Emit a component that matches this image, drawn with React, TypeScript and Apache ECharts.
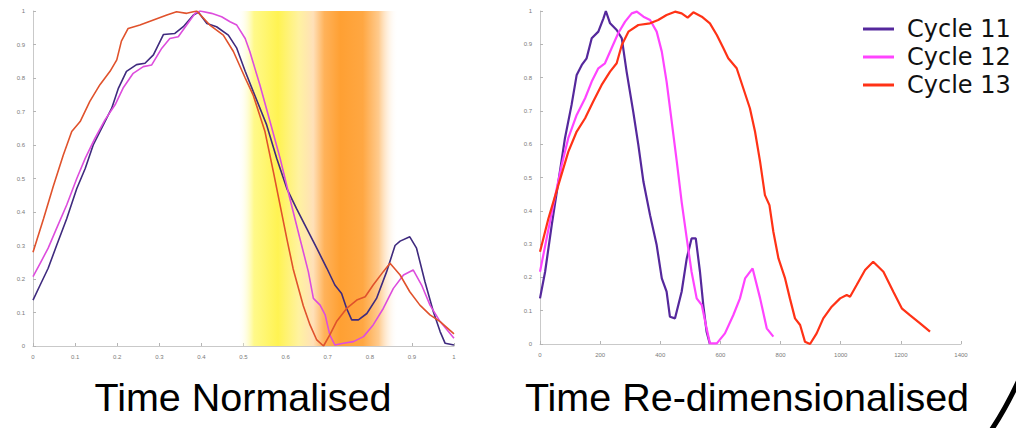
import React, { useEffect, useRef } from "react";
import * as echarts from "echarts";

const seriesNames = ["Cycle 11", "Cycle 12", "Cycle 13"];
const legendColors = ["#55289c", "#ff44ff", "#ff3216"];
const normColors = ["#3f2a7e", "#dd4ddd", "#e0522c"];
const realColors = ["#55289c", "#ff44ff", "#ff3216"];
const titles = ["Time Normalised", "Time Re-dimensionalised"];

// Left chart: time normalised (x 0..1)
const norm11 = [
  [0, 0.137], [0.017, 0.182], [0.036, 0.232], [0.056, 0.3], [0.08, 0.38], [0.104, 0.47], [0.124, 0.53],
  [0.143, 0.6], [0.167, 0.66], [0.187, 0.71], [0.203, 0.77], [0.222, 0.82], [0.246, 0.84], [0.266, 0.844],
  [0.286, 0.869], [0.31, 0.93], [0.337, 0.933], [0.357, 0.953], [0.381, 0.988], [0.393, 0.996], [0.413, 0.963],
  [0.436, 0.953], [0.464, 0.928], [0.484, 0.889], [0.504, 0.82], [0.523, 0.76], [0.555, 0.66], [0.579, 0.56],
  [0.603, 0.47], [0.626, 0.41], [0.65, 0.351], [0.674, 0.292], [0.698, 0.232], [0.717, 0.182], [0.733, 0.157],
  [0.745, 0.112], [0.757, 0.078], [0.773, 0.078], [0.793, 0.097], [0.816, 0.142], [0.84, 0.222], [0.86, 0.3],
  [0.872, 0.313], [0.895, 0.326], [0.911, 0.292], [0.931, 0.192], [0.951, 0.102], [0.967, 0.043], [0.979, 0.008],
  [1, 0.003],
];
const norm12 = [
  [0, 0.207], [0.017, 0.247], [0.036, 0.292], [0.056, 0.351], [0.08, 0.421], [0.104, 0.5], [0.124, 0.56],
  [0.147, 0.62], [0.171, 0.675], [0.195, 0.72], [0.214, 0.77], [0.238, 0.814], [0.262, 0.834], [0.282, 0.839],
  [0.306, 0.889], [0.325, 0.918], [0.345, 0.923], [0.365, 0.958], [0.385, 0.993], [0.397, 1.0], [0.424, 0.993],
  [0.448, 0.983], [0.468, 0.968], [0.484, 0.958], [0.504, 0.918], [0.515, 0.879], [0.539, 0.779], [0.563, 0.67],
  [0.587, 0.56], [0.61, 0.441], [0.634, 0.321], [0.654, 0.222], [0.666, 0.142], [0.682, 0.122], [0.694, 0.093],
  [0.705, 0.033], [0.717, 0.003], [0.737, 0.008], [0.761, 0.013], [0.785, 0.028], [0.808, 0.063], [0.832, 0.112],
  [0.856, 0.172], [0.88, 0.212], [0.903, 0.227], [0.923, 0.182], [0.943, 0.122], [0.967, 0.073], [1, 0.023],
];
const norm13 = [
  [0, 0.28], [0.025, 0.38], [0.048, 0.476], [0.072, 0.57], [0.092, 0.64], [0.112, 0.67], [0.135, 0.73],
  [0.159, 0.78], [0.183, 0.82], [0.199, 0.854], [0.21, 0.91], [0.226, 0.948], [0.254, 0.958], [0.286, 0.973],
  [0.318, 0.988], [0.341, 0.998], [0.365, 0.993], [0.389, 1.0], [0.42, 0.958], [0.452, 0.928], [0.476, 0.879],
  [0.504, 0.8], [0.523, 0.749], [0.551, 0.64], [0.571, 0.52], [0.587, 0.42], [0.603, 0.32], [0.618, 0.23],
  [0.642, 0.12], [0.658, 0.063], [0.674, 0.018], [0.69, 0.0], [0.705, 0.033], [0.721, 0.073], [0.745, 0.112],
  [0.769, 0.137], [0.789, 0.147], [0.808, 0.182], [0.832, 0.222], [0.848, 0.247], [0.872, 0.212], [0.895, 0.162],
  [0.919, 0.122], [0.943, 0.093], [0.967, 0.073], [1, 0.036],
];

// Right chart: time re-dimensionalised (x 0..1400)
const real11 = [
  [0, 0.137], [17, 0.217], [39, 0.357], [61, 0.487], [83, 0.618], [105, 0.718], [122, 0.808], [139, 0.838],
  [155, 0.858], [172, 0.918], [194, 0.938], [211, 0.978], [219, 1.0], [233, 0.963], [255, 0.943], [272, 0.918],
  [288, 0.818], [310, 0.698], [327, 0.598], [344, 0.487], [366, 0.387], [388, 0.297], [405, 0.197], [421, 0.157],
  [432, 0.082], [449, 0.077], [471, 0.157], [488, 0.257], [504, 0.317], [518, 0.317], [532, 0.217], [543, 0.117],
  [554, 0.037], [565, 0],
];
const real12 = [
  [0, 0.217], [22, 0.317], [44, 0.417], [72, 0.537], [94, 0.618], [122, 0.688], [150, 0.738], [172, 0.788],
  [194, 0.828], [216, 0.843], [238, 0.888], [260, 0.933], [283, 0.968], [305, 0.993], [322, 0.998], [344, 0.983],
  [366, 0.973], [388, 0.938], [405, 0.878], [421, 0.788], [438, 0.668], [455, 0.547], [471, 0.427], [488, 0.317],
  [504, 0.217], [521, 0.137], [538, 0.117], [554, 0.047], [565, 0.002], [588, 0.002], [615, 0.032], [643, 0.087],
  [665, 0.137], [682, 0.197], [707, 0.227], [732, 0.137], [754, 0.047], [776, 0.022],
];
const real13 = [
  [0, 0.277], [28, 0.377], [61, 0.477], [94, 0.577], [122, 0.638], [150, 0.678], [177, 0.728], [205, 0.778],
  [233, 0.818], [255, 0.843], [272, 0.898], [294, 0.938], [327, 0.958], [366, 0.963], [393, 0.973], [421, 0.988],
  [449, 0.998], [471, 0.993], [491, 0.98], [510, 0.996], [538, 0.983], [565, 0.963], [588, 0.928], [610, 0.888],
  [626, 0.858], [654, 0.828], [676, 0.768], [698, 0.708], [715, 0.638], [732, 0.547], [748, 0.447], [763, 0.417],
  [776, 0.337], [793, 0.257], [815, 0.197], [831, 0.137], [848, 0.077], [865, 0.057], [881, 0.007], [898, 0],
  [920, 0.032], [942, 0.077], [970, 0.112], [998, 0.137], [1020, 0.147], [1031, 0.142], [1053, 0.177],
  [1081, 0.222], [1108, 0.247], [1142, 0.217], [1175, 0.157], [1203, 0.107], [1230, 0.087], [1264, 0.062],
  [1297, 0.037],
];

// Highlighted band on the normalised chart (x range)
const bandRange = [0.487, 0.867];

const normSeries = [norm11, norm12, norm13];
const realSeries = [real11, real12, real13];

function axisCommon(extra: any) {
  return {
    type: "value",
    axisLine: { show: true, lineStyle: { color: "#c9c9c9", width: 1 } },
    axisTick: { show: true, inside: true, length: 3, lineStyle: { color: "#b5b5b5" } },
    axisLabel: {
      fontSize: 6,
      color: "#7a7a7a",
      margin: 8,
      fontFamily: "Liberation Sans",
      formatter: (v: number) => String(Math.round(v * 1000) / 1000),
    },
    splitLine: { show: false },
    ...extra,
  };
}

export default function App() {
  const ref = useRef<HTMLDivElement>(null);
  useEffect(() => {
    if (!ref.current) return;
    const chart = echarts.init(ref.current, null, { renderer: "svg" });
    const series: any[] = [];
    series.push({
      type: "line",
      name: "band",
      xAxisIndex: 0,
      yAxisIndex: 0,
      data: [],
      z: 1,
      silent: true,
      markArea: {
        silent: true,
        itemStyle: {
          color: {
            type: "linear",
            x: 0,
            y: 0,
            x2: 1,
            y2: 0,
            colorStops: [
              { offset: 0, color: "rgba(255,255,255,0)" },
              { offset: 0.1, color: "#fff98a" },
              { offset: 0.25, color: "#fff352" },
              { offset: 0.38, color: "#fff2a0" },
              { offset: 0.47, color: "#ffe0b8" },
              { offset: 0.54, color: "#ffb25a" },
              { offset: 0.64, color: "#ffa033" },
              { offset: 0.78, color: "#ffa742" },
              { offset: 0.88, color: "#ffcb8e" },
              { offset: 1, color: "rgba(255,255,255,0)" },
            ],
          },
        },
        data: [[{ xAxis: bandRange[0], yAxis: 0 }, { xAxis: bandRange[1], yAxis: 1 }]],
      },
    });
    normSeries.forEach((d, i) => {
      series.push({
        type: "line",
        name: seriesNames[i],
        xAxisIndex: 0,
        yAxisIndex: 0,
        data: d,
        showSymbol: false,
        z: 3,
        lineStyle: { color: normColors[i], width: 1.6 },
        itemStyle: { color: normColors[i] },
      });
    });
    realSeries.forEach((d, i) => {
      series.push({
        type: "line",
        name: seriesNames[i],
        xAxisIndex: 1,
        yAxisIndex: 1,
        data: d,
        showSymbol: false,
        z: 3,
        lineStyle: { color: realColors[i], width: 2.2 },
        itemStyle: { color: realColors[i] },
      });
    });

    chart.setOption({
      animation: false,
      grid: [
        { left: 33, top: 11, width: 421, height: 335 },
        { left: 540, top: 11, width: 421, height: 333 },
      ],
      xAxis: [
        axisCommon({ gridIndex: 0, min: 0, max: 1, interval: 0.1 }),
        axisCommon({ gridIndex: 1, min: 0, max: 1400, interval: 200 }),
      ],
      yAxis: [
        axisCommon({ gridIndex: 0, min: 0, max: 1, interval: 0.1 }),
        axisCommon({ gridIndex: 1, min: 0, max: 1, interval: 0.1 }),
      ],
      legend: {
        orient: "vertical",
        left: 863,
        top: 17,
        padding: 0,
        itemWidth: 31,
        itemHeight: 3,
        itemGap: 4,
        icon: "rect",
        selectedMode: false,
        textStyle: { fontSize: 24, fontFamily: "DejaVu Sans", color: "#111", padding: [0, 0, 0, 8] },
        data: seriesNames.map((n, i) => ({ name: n, itemStyle: { color: legendColors[i] } })),
      },
      graphic: [
        {
          type: "text",
          x: 243,
          y: 397,
          style: {
            text: titles[0],
            fontSize: 39.5,
            fontFamily: "Liberation Sans",
            fill: "#000",
            align: "center",
            verticalAlign: "middle",
          },
        },
        {
          type: "text",
          x: 747,
          y: 397,
          style: {
            text: titles[1],
            fontSize: 39.5,
            fontFamily: "Liberation Sans",
            fill: "#000",
            align: "center",
            verticalAlign: "middle",
          },
        },
        {
          type: "bezierCurve",
          shape: { x1: 990, y1: 432, x2: 1019, y2: 380, cpx1: 1005, cpy1: 410 },
          style: { stroke: "#000", lineWidth: 5, fill: null },
        },
      ],
      series,
    });
    return () => chart.dispose();
  }, []);
  return (
    <div
      ref={ref}
      style={{ position: "absolute", left: 0, top: 0, width: 1016, height: 428, background: "#fff" }}
    />
  );
}
